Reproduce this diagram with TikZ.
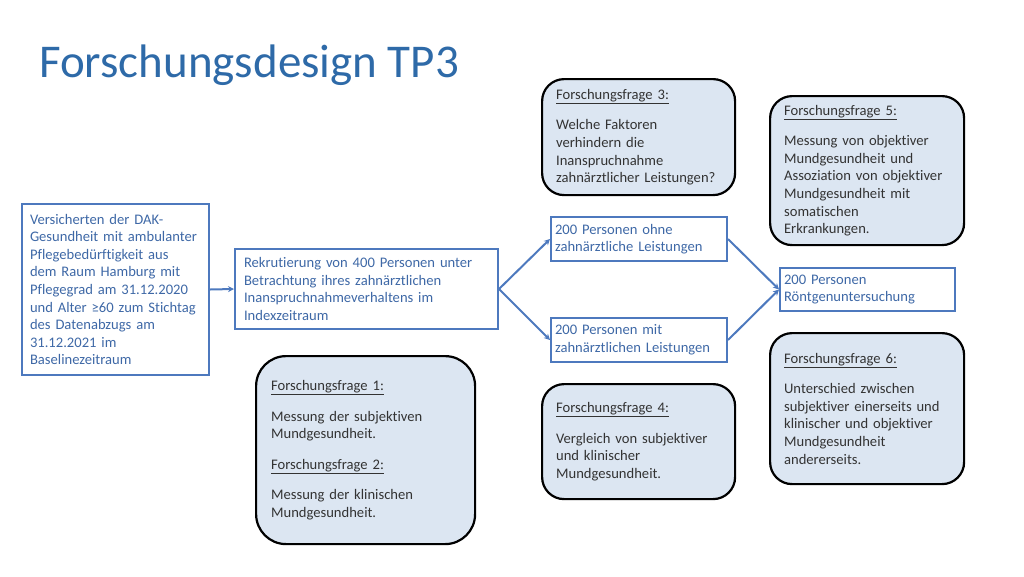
\documentclass[tikz,border=0pt]{standalone}
\usepackage{fontspec}
\setmainfont[Ligatures=NoCommon]{Carlito}
\usetikzlibrary{arrows.meta}
\definecolor{titleblue}{RGB}{46,106,168}
\definecolor{boxblue}{RGB}{77,121,190}
\definecolor{textblue}{RGB}{62,104,166}
\definecolor{qfill}{RGB}{220,230,242}
\definecolor{qtext}{RGB}{51,51,51}
\tikzset{
  bluebox/.style={draw=boxblue, line width=2pt, anchor=north west, align=left,
    text=textblue, font=\fontsize{14.6}{17.6}\selectfont, inner ysep=2pt},
  qbox/.style={draw=black, line width=2.2pt, fill=qfill, anchor=north west, align=left,
    text=qtext, font=\fontsize{14.6}{17.6}\selectfont, rounded corners=22pt,
    inner xsep=14pt, inner ysep=2pt},
  conn/.style={draw=boxblue, line width=2pt, -{Stealth[length=6pt,width=6pt]}}
}
\begin{document}
\begin{tikzpicture}[x=1pt,y=-1pt]
\useasboundingbox (0,0) rectangle (1024,576);
\node[anchor=base west, text=titleblue, font=\fontsize{47}{52}\selectfont, inner sep=0pt] (title) at (39,77) {Forschungsdesign TP3};

\node[bluebox, text width=171pt, inner xsep=8pt, minimum height=171pt] (A) at (21,203)
 {Versicherten der DAK-\\Gesundheit mit ambulanter\\Pflegebedürftigkeit aus\\dem Raum Hamburg mit\\Pflegegrad am 31.12.2020\\und Alter ≥60 zum Stichtag\\des Datenabzugs am\\31.12.2021 im\\Baselinezeitraum};
\node[bluebox, text width=245pt, inner xsep=9pt, minimum height=80pt] (B) at (234,248)
 {Rekrutierung von 400 Personen unter\\Betrachtung ihres zahnärztlichen\\Inanspruchnahmeverhaltens im\\Indexzeitraum};
\node[bluebox, text width=168pt, inner xsep=4pt, minimum height=44pt] (C) at (550,216)
 {200 Personen ohne\\zahnärztliche Leistungen};
\node[bluebox, text width=168pt, inner xsep=4pt, minimum height=44pt] (D) at (550,317)
 {200 Personen mit\\zahnärztlichen Leistungen};
\node[bluebox, text width=167pt, inner xsep=4pt, minimum height=43pt] (E) at (779,267)
 {200 Personen\\Röntgenuntersuchung};

\draw[conn] (A.east) -- (B.west);
\draw[conn] (B.east) -- (C.west);
\draw[conn] (B.east) -- (D.west);
\draw[conn] (C.east) -- (E.west);
\draw[conn] (D.east) -- (E.west);

\node[qbox, text width=165pt, minimum height=116pt] (F3) at (541,78)
 {\underline{Forschungsfrage 3:}\\[13pt]Welche Faktoren\\verhindern die\\Inanspruchnahme\\zahnärztlicher Leistungen?};
\node[qbox, text width=166pt, minimum height=149pt] (F5) at (769,95)
 {\underline{Forschungsfrage 5:}\\[13pt]Messung von objektiver\\Mundgesundheit und\\Assoziation von objektiver\\Mundgesundheit mit\\somatischen\\Erkrankungen.};
\node[qbox, text width=189pt, inner xsep=15pt, minimum height=188pt, rounded corners=30pt] (F1) at (255,355)
 {\underline{Forschungsfrage 1:}\\[13pt]Messung der subjektiven\\Mundgesundheit.\\[13pt]\underline{Forschungsfrage 2:}\\[13pt]Messung der klinischen\\Mundgesundheit.};
\node[qbox, text width=165pt, minimum height=115pt] (F4) at (541,383)
 {\underline{Forschungsfrage 4:}\\[13pt]Vergleich von subjektiver\\und klinischer\\Mundgesundheit.};
\node[qbox, text width=166pt, minimum height=151pt] (F6) at (769,332)
 {\underline{Forschungsfrage 6:}\\[13pt]Unterschied zwischen\\subjektiver einerseits und\\klinischer und objektiver\\Mundgesundheit\\andererseits.};
\end{tikzpicture}
\end{document}
